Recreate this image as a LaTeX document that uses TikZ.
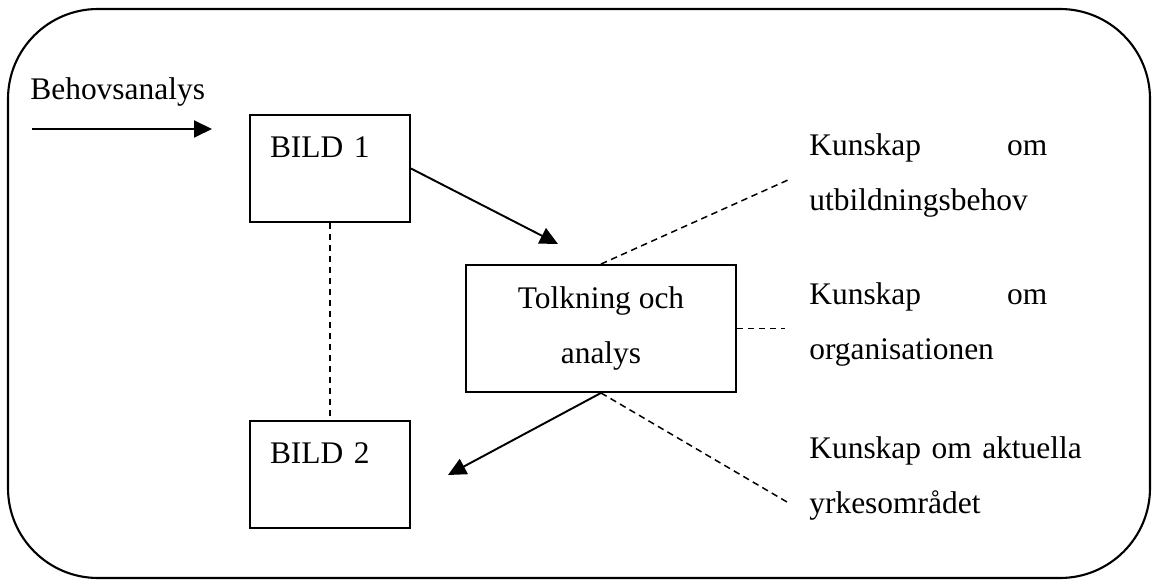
\documentclass[tikz,border=0pt]{standalone}
\usepackage{fontspec}
\setmainfont{Liberation Serif}
\usetikzlibrary{arrows.meta, positioning}

\begin{document}
\begin{tikzpicture}[
			x=0.02cm, y=-0.02cm,
			font=\fontsize{17.9}{31.3}\selectfont,
			bild/.style={rectangle, draw, line width=1.1pt, minimum width=3.2cm, text width=2.4cm, align=left, inner xsep=0.4cm, inner ysep=0pt, text height=0.85cm, text depth=1.29cm},
			tolkbox/.style={rectangle, draw, line width=1.1pt, minimum width=5.4cm, minimum height=2.54cm, align=center},
			kunskap/.style={anchor=north west, inner sep=0pt, text width=4.76cm, align=left},
			arrow/.style={-{Triangle[length=0.36cm, width=0.34cm]}, line width=1.1pt},
			link/.style={line width=0.85pt, dash pattern=on 0.13cm off 0.09cm}
		]
		\useasboundingbox (0,0) rectangle (1157,587);
		\draw[line width=1.2pt, rounded corners=1.8cm] (8,9) rectangle (1150,578);
		
		\node[anchor=base west, inner sep=0pt] (behov) at (30,100) {Behovsanalys};
		\coordinate (inn) at (32,129);
		\coordinate (innend) at (212,129);
		\draw[arrow] (inn) -- (innend);
		
		\node[bild] (bild1) at (330,168.5) {BILD 1};
		\node[bild, below=3.94cm of bild1] (bild2) {BILD 2};
		\node[tolkbox] (tolk) at (601,328.5) {Tolkning och\\analys};
		
		\coordinate (tip1) at (558,244);
		\coordinate (tip2) at (448,475);
		\draw[arrow] (bild1.east) -- (tip1);
		\draw[arrow] (tolk.south) -- (tip2);
		\draw[link] (bild1.south) -- (bild2.north);
		
		% Knowledge sources
		\node[kunskap] (kun1) at (809,133.5) {Kunskap \hfill om\\utbildningsbehov};
		\node[kunskap] (kun2) at (809,282.5) {Kunskap \hfill om\\organisationen};
		\node[kunskap, text width=6cm] (kun3) at (809,436.5) {Kunskap om aktuella\\yrkesområdet};
		
		\coordinate (k1) at (788,180);
		\coordinate (k2) at (785,328.5);
		\coordinate (k3) at (787,502);
		\draw[link] (tolk.north) -- (k1);
		\draw[link] (tolk.east) -- (k2);
		\draw[link] (tolk.south) -- (k3);
		\end{tikzpicture}
\end{document}
